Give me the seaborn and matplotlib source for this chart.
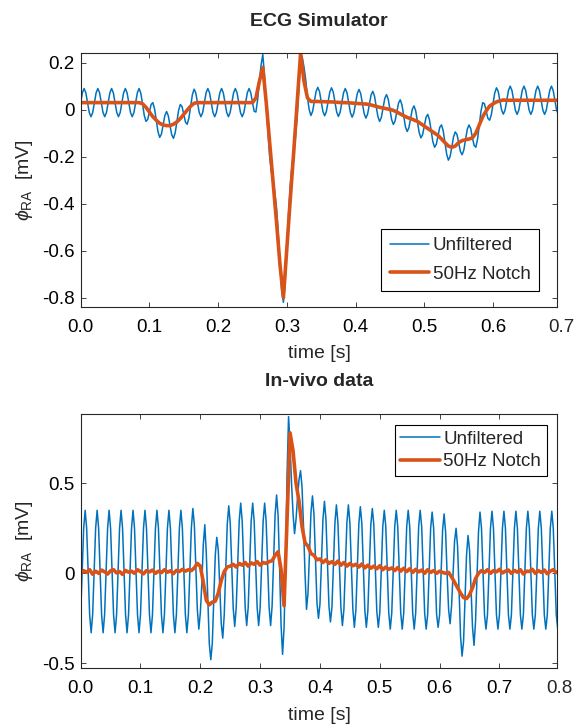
import numpy as np
import matplotlib
matplotlib.use("Agg")
import matplotlib.pyplot as plt
import seaborn as sns

# ---------------- data ----------------
# ECG simulator, 50Hz-notch output, sampled every 5 ms (0.000 .. 0.700 s)
sim_notch = [
    0.03, 0.03, 0.03, 0.03, 0.03, 0.03, 0.03, 0.03, 0.03, 0.03,
    0.03, 0.03, 0.03, 0.03, 0.03, 0.03, 0.03, 0.03, 0.025, 0.01,
    -0.01, -0.03, -0.045, -0.058, -0.065, -0.068, -0.068, -0.062, -0.052, -0.038,
    -0.02, -0.002, 0.015, 0.027, 0.03, 0.03, 0.03, 0.03, 0.03, 0.03,
    0.03, 0.03, 0.03, 0.03, 0.03, 0.03, 0.03, 0.03, 0.03, 0.03,
    0.03, 0.05, 0.12, 0.18, 0.03, -0.14, -0.31, -0.48, -0.66, -0.80,
    -0.59, -0.38, -0.18, 0.03, 0.24, 0.12, 0.05, 0.035, 0.035, 0.035,
    0.034, 0.034, 0.033, 0.033, 0.032, 0.031, 0.030, 0.030, 0.029, 0.028,
    0.027, 0.026, 0.025, 0.024, 0.022, 0.018, 0.014, 0.010, 0.007, 0.004,
    0.001, -0.003, -0.010, -0.018, -0.026, -0.033, -0.038, -0.044, -0.050, -0.060,
    -0.070, -0.080, -0.090, -0.100, -0.110, -0.125, -0.140, -0.155, -0.160, -0.155,
    -0.140, -0.132, -0.128, -0.125, -0.120, -0.100, -0.065, -0.030, -0.005, 0.015,
    0.025, 0.033, 0.038, 0.041, 0.04, 0.04, 0.04, 0.04, 0.04, 0.04,
    0.04, 0.04, 0.04, 0.04, 0.04, 0.04, 0.04, 0.04, 0.04, 0.04,
    0.04,
]
# ECG simulator, unfiltered, sampled every 2.5 ms (0.000 .. 0.700 s), one 20 ms cycle per line
sim_raw = [
    0.03, 0.072, 0.09, 0.072, 0.03, -0.012, -0.03, -0.012,
    0.03, 0.072, 0.09, 0.072, 0.03, -0.012, -0.03, -0.012,
    0.03, 0.072, 0.09, 0.072, 0.03, -0.012, -0.03, -0.012,
    0.03, 0.072, 0.09, 0.072, 0.03, -0.012, -0.03, -0.012,
    0.03, 0.072, 0.09, 0.07, 0.025, -0.024, -0.05, -0.042,
    -0.01, 0.022, 0.03, 0.004, -0.045, -0.094, -0.118, -0.104,
    -0.065, -0.025, -0.008, -0.026, -0.068, -0.107, -0.122, -0.099,
    -0.052, -0.003, 0.022, 0.013, -0.02, -0.053, -0.062, -0.035,
    0.015, 0.063, 0.087, 0.071, 0.03, -0.012, -0.03, -0.012,
    0.03, 0.072, 0.09, 0.072, 0.03, -0.012, -0.03, -0.012,
    0.03, 0.072, 0.09, 0.072, 0.03, -0.012, -0.03, -0.012,
    0.03, 0.072, 0.09, 0.072, 0.03, -0.012, -0.03, -0.012,
    0.03, 0.072, 0.09, 0.072, 0.03, -0.007, -0.01, 0.043,
    0.12, 0.19, 0.235, 0.145, 0.03, -0.095, -0.20, -0.265,
    -0.31, -0.353, -0.42, -0.528, -0.66, -0.772, -0.82, -0.737,
    -0.59, -0.443, -0.32, -0.238, -0.18, -0.117, -0.03, 0.093,
    0.24, 0.222, 0.18, 0.127, 0.05, 0.0, -0.025, -0.007,
    0.035, 0.077, 0.095, 0.077, 0.034, -0.008, -0.026, -0.008,
    0.033, 0.075, 0.093, 0.075, 0.032, -0.010, -0.029, -0.011,
    0.030, 0.072, 0.090, 0.072, 0.029, -0.013, -0.032, -0.014,
    0.027, 0.069, 0.086, 0.068, 0.025, -0.017, -0.036, -0.019,
    0.022, 0.062, 0.078, 0.058, 0.014, -0.030, -0.050, -0.033,
    0.007, 0.048, 0.064, 0.045, 0.001, -0.043, -0.063, -0.048,
    -0.010, 0.028, 0.042, 0.020, -0.026, -0.072, -0.093, -0.078,
    -0.038, 0.001, 0.016, -0.005, -0.050, -0.097, -0.120, -0.107,
    -0.070, -0.033, -0.020, -0.043, -0.090, -0.137, -0.160, -0.147,
    -0.110, -0.075, -0.065, -0.090, -0.140, -0.189, -0.215, -0.200,
    -0.160, -0.116, -0.095, -0.105, -0.140, -0.178, -0.192, -0.172,
    -0.128, -0.084, -0.065, -0.080, -0.120, -0.152, -0.160, -0.125,
    -0.065, -0.006, 0.030, 0.025, -0.005, -0.037, -0.045, -0.022,
    0.025, 0.071, 0.093, 0.078, 0.038, -0.002, -0.019, -0.002,
    0.04, 0.082, 0.10, 0.082, 0.04, -0.002, -0.02, -0.002,
    0.04, 0.082, 0.10, 0.082, 0.04, -0.002, -0.02, -0.002,
    0.04, 0.082, 0.10, 0.082, 0.04, -0.002, -0.02, -0.002,
    0.04, 0.082, 0.10, 0.082, 0.04, -0.002, -0.02, -0.002,
    0.04,
]

# In-vivo data, 50Hz-notch output, sampled every 5 ms (0.000 .. 0.800 s)
vivo_notch = [
    0.0, 0.015, 0.005, 0.02, -0.005, 0.012, 0.0, 0.018, 0.008, -0.004,
    0.014, 0.02, 0.002, 0.01, -0.006, 0.016, 0.006, 0.012, 0.0, 0.02,
    0.01, -0.003, 0.015, 0.008, 0.018, 0.0, 0.012, 0.004, 0.02, 0.006,
    0.014, -0.002, 0.016, 0.01, 0.022, 0.012, 0.02, 0.015, 0.03, 0.055,
    0.04, -0.05, -0.15, -0.175, -0.16, -0.155, -0.11, -0.04, 0.01, 0.035,
    0.04, 0.05, 0.035, 0.055, 0.045, 0.06, 0.04, 0.058, 0.05, 0.065,
    0.045, 0.06, 0.055, 0.065, 0.07, 0.10, 0.12, 0.02, -0.18, 0.30,
    0.78, 0.68, 0.50, 0.40, 0.26, 0.17, 0.15, 0.11, 0.10, 0.075,
    0.08, 0.06, 0.075, 0.055, 0.065, 0.05, 0.068, 0.045, 0.06, 0.04,
    0.055, 0.042, 0.05, 0.035, 0.052, 0.03, 0.045, 0.028, 0.04, 0.025,
    0.042, 0.02, 0.035, 0.022, 0.03, 0.015, 0.032, 0.012, 0.028, 0.01,
    0.025, 0.005, 0.022, 0.008, 0.018, 0.0, 0.02, 0.005, 0.015, 0.0,
    0.012, 0.005, 0.0, 0.005, -0.02, -0.05, -0.08, -0.11, -0.135, -0.14,
    -0.12, -0.08, -0.03, 0.0, 0.015, 0.005, 0.02, 0.0, 0.015, 0.008,
    0.022, 0.002, 0.012, 0.018, 0.0, 0.016, 0.006, 0.02, -0.004, 0.012,
    0.01, 0.022, 0.0, 0.015, 0.005, 0.018, -0.002, 0.012, 0.02, 0.004,
    0.01,
]
# In-vivo data, unfiltered, sampled every 2.5 ms (0.000 .. 0.800 s), one 20 ms cycle per line
vivo_raw = [
    -0.23, 0.01, 0.25, 0.35, 0.25, 0.01, -0.23, -0.33,
    -0.23, 0.01, 0.25, 0.35, 0.25, 0.01, -0.23, -0.33,
    -0.23, 0.01, 0.25, 0.35, 0.25, 0.01, -0.23, -0.33,
    -0.23, 0.01, 0.25, 0.35, 0.25, 0.01, -0.23, -0.33,
    -0.23, 0.01, 0.25, 0.35, 0.25, 0.01, -0.23, -0.33,
    -0.23, 0.01, 0.25, 0.35, 0.25, 0.01, -0.23, -0.33,
    -0.23, 0.01, 0.25, 0.35, 0.25, 0.01, -0.23, -0.33,
    -0.23, 0.01, 0.25, 0.35, 0.25, 0.01, -0.23, -0.33,
    -0.23, 0.01, 0.25, 0.35, 0.25, 0.01, -0.23, -0.33,
    -0.23, 0.01, 0.25, 0.36, 0.27, 0.04, -0.20, -0.31,
    -0.22, -0.06, 0.16, 0.27, 0.11, -0.14, -0.39, -0.48,
    -0.39, -0.15, 0.10, 0.20, 0.13, -0.08, -0.28, -0.36,
    -0.23, 0.02, 0.27, 0.375, 0.28, 0.04, -0.195, -0.295,
    -0.19, 0.05, 0.29, 0.39, 0.29, 0.05, -0.19, -0.29,
    -0.19, 0.05, 0.29, 0.39, 0.29, 0.05, -0.19, -0.29,
    -0.19, 0.05, 0.29, 0.39, 0.29, 0.05, -0.19, -0.29,
    -0.18, 0.07, 0.325, 0.435, 0.32, 0.03, -0.29, -0.45,
    -0.30, 0.05, 0.55, 0.87, 0.72, 0.50, 0.33, 0.22,
    0.30, 0.42, 0.52, 0.57, 0.48, 0.26, 0.0, -0.20,
    -0.11, 0.11, 0.34, 0.43, 0.325, 0.08, -0.165, -0.25,
    -0.17, 0.065, 0.30, 0.40, 0.30, 0.06, -0.18, -0.27,
    -0.19, 0.045, 0.28, 0.38, 0.28, 0.045, -0.19, -0.29,
    -0.20, 0.04, 0.28, 0.38, 0.28, 0.04, -0.20, -0.30,
    -0.205, 0.035, 0.275, 0.37, 0.275, 0.035, -0.205, -0.30,
    -0.21, 0.03, 0.27, 0.36, 0.27, 0.03, -0.21, -0.30,
    -0.22, 0.02, 0.26, 0.35, 0.26, 0.02, -0.22, -0.31,
    -0.22, 0.02, 0.26, 0.35, 0.26, 0.02, -0.22, -0.31,
    -0.22, 0.02, 0.26, 0.35, 0.26, 0.02, -0.22, -0.31,
    -0.22, 0.02, 0.26, 0.35, 0.26, 0.02, -0.22, -0.31,
    -0.23, 0.01, 0.25, 0.34, 0.25, 0.01, -0.23, -0.30,
    -0.23, 0.0, 0.24, 0.33, 0.23, 0.0, -0.20, -0.28,
    -0.18, 0.0, 0.18, 0.25, 0.15, -0.09, -0.35, -0.46,
    -0.38, -0.14, 0.10, 0.21, 0.13, -0.08, -0.30, -0.40,
    -0.27, -0.02, 0.23, 0.34, 0.25, 0.01, -0.23, -0.31,
    -0.23, 0.01, 0.25, 0.345, 0.25, 0.01, -0.23, -0.31,
    -0.23, 0.01, 0.25, 0.345, 0.25, 0.01, -0.23, -0.31,
    -0.23, 0.01, 0.25, 0.345, 0.25, 0.01, -0.23, -0.31,
    -0.23, 0.01, 0.25, 0.345, 0.25, 0.01, -0.23, -0.31,
    -0.23, 0.01, 0.25, 0.345, 0.25, 0.01, -0.23, -0.31,
    -0.23, 0.01, 0.25, 0.345, 0.25, 0.01, -0.23, -0.31,
    -0.23,
]

notch_step = 0.005   # s
raw_step = 0.0025    # s
top_xticks = [0.0, 0.1, 0.2, 0.3, 0.4, 0.5, 0.6, 0.7]
top_xticklabels = ["0.0", "0.1", "0.2", "0.3", "0.4", "0.5", "0.6", "0.7"]
top_yticks = [-0.8, -0.6, -0.4, -0.2, 0.0, 0.2]
top_yticklabels = ["-0.8", "-0.6", "-0.4", "-0.2", "0", "0.2"]
bot_xticks = [0.0, 0.1, 0.2, 0.3, 0.4, 0.5, 0.6, 0.7, 0.8]
bot_xticklabels = ["0.0", "0.1", "0.2", "0.3", "0.4", "0.5", "0.6", "0.7", "0.8"]
bot_yticks = [-0.5, 0.0, 0.5]
bot_yticklabels = ["-0.5", "0", "0.5"]

assert len(sim_notch) == 141 and len(sim_raw) == 281, (len(sim_notch), len(sim_raw))
assert len(vivo_notch) == 161 and len(vivo_raw) == 321, (len(vivo_notch), len(vivo_raw))
t_sim_notch = np.arange(len(sim_notch)) * notch_step
t_sim_raw = np.arange(len(sim_raw)) * raw_step
t_vivo_notch = np.arange(len(vivo_notch)) * notch_step
t_vivo_raw = np.arange(len(vivo_raw)) * raw_step

# ---------------- style ----------------
sns.set_theme(style="ticks")
plt.rcParams["font.family"] = ["Liberation Sans", "DejaVu Sans"]
plt.rcParams["axes.unicode_minus"] = False
plt.rcParams["mathtext.fontset"] = "custom"
plt.rcParams["mathtext.rm"] = "Liberation Sans"
plt.rcParams["mathtext.it"] = "Liberation Sans:italic"
plt.rcParams["mathtext.bf"] = "Liberation Sans:bold"

BLUE = "#0072BD"
ORANGE = "#D95319"
AXC = "#262626"

fig = plt.figure(figsize=(5.75, 7.25), dpi=100)
ax1 = fig.add_axes([0.1403, 0.5766, 0.8289, 0.3499])
ax2 = fig.add_axes([0.1403, 0.0786, 0.8289, 0.3504])


def draw(ax, t_raw, raw, t_notch, notch):
    sns.lineplot(x=t_raw, y=raw, ax=ax, color=BLUE, linewidth=1.1,
                 label="Unfiltered", estimator=None, sort=False)
    sns.lineplot(x=t_notch, y=notch, ax=ax, color=ORANGE, linewidth=2.6,
                 label="50Hz Notch", estimator=None, sort=False)


draw(ax1, t_sim_raw, sim_raw, t_sim_notch, sim_notch)
draw(ax2, t_vivo_raw, vivo_raw, t_vivo_notch, vivo_notch)

for ax in (ax1, ax2):
    for s in ax.spines.values():
        s.set_color(AXC)
        s.set_linewidth(0.8)
    ax.tick_params(axis="both", direction="in", length=3.5, width=0.6,
                   colors=AXC, labelcolor="black", labelsize=13.5,
                   top=True, right=True)
    ax.tick_params(axis="x", pad=8.5)
    ax.tick_params(axis="y", pad=4.5)
    ax.set_xlabel("time [s]", fontsize=14, labelpad=7)
    ax.set_ylabel(r"$\phi_{\mathrm{RA}}$  [mV]", fontsize=14, labelpad=5)

# top panel: last tick label sits just beyond the right edge, as in the reference
ax1.set_xlim(0, 0.6935)
ax1.set_ylim(-0.84, 0.24)
ax1.set_xticks(top_xticks[:-1], top_xticklabels[:-1])
ax1.set_yticks(top_yticks, top_yticklabels)
ax1.annotate(top_xticklabels[-1], xy=(top_xticks[-1], 0),
             xycoords=("data", "axes fraction"),
             xytext=(0, -8.5), textcoords="offset points", ha="center",
             va="top", fontsize=13.5, annotation_clip=False)
ax1.set_title("ECG Simulator", fontsize=14, fontweight="bold", pad=20)

ax2.set_xlim(0, 0.7967)
ax2.set_ylim(-0.526, 0.885)
ax2.set_xticks(bot_xticks[:-1], bot_xticklabels[:-1])
ax2.set_yticks(bot_yticks, bot_yticklabels)
ax2.annotate(bot_xticklabels[-1], xy=(bot_xticks[-1], 0),
             xycoords=("data", "axes fraction"),
             xytext=(0, -8.5), textcoords="offset points", ha="center",
             va="top", fontsize=13.5, annotation_clip=False)
ax2.set_title("In-vivo data", fontsize=14, fontweight="bold", pad=20)

leg_kw = dict(fontsize=13.5, frameon=True, fancybox=False, framealpha=1,
              edgecolor="black", handlelength=2.1, handletextpad=0.2,
              borderaxespad=0)
l1 = ax1.legend(loc="lower right", bbox_to_anchor=(0.9616, 0.063),
                labelspacing=0.6, borderpad=0.45, **leg_kw)
l2 = ax2.legend(loc="upper right", bbox_to_anchor=(0.978, 0.957),
                labelspacing=0.3, borderpad=0.3, **leg_kw)
for lg in (l1, l2):
    lg.get_frame().set_linewidth(0.8)

fig.savefig("out.png", dpi=100)
